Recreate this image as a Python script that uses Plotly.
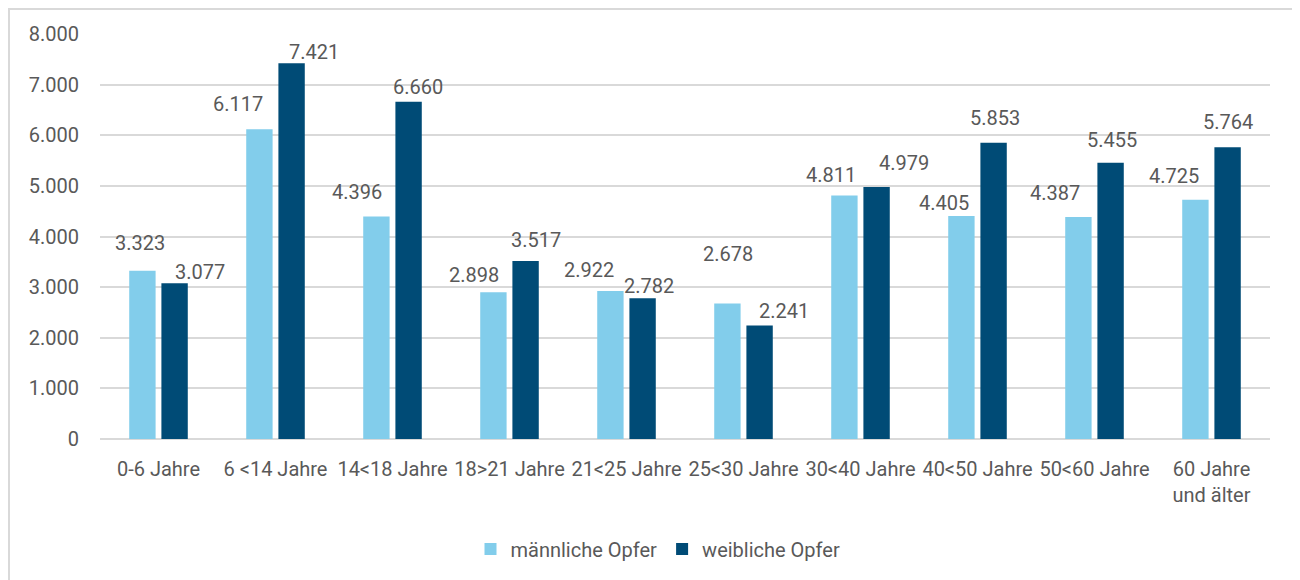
import plotly.graph_objects as go

categories = ["0-6 Jahre", "6 <14 Jahre", "14<18 Jahre", "18>21 Jahre", "21<25 Jahre",
              "25<30 Jahre", "30<40 Jahre", "40<50 Jahre", "50<60 Jahre", "60 Jahre<br>und älter"]
male = [3323, 6117, 4396, 2898, 2922, 2678, 4811, 4405, 4387, 4725]
female = [3077, 7421, 6660, 3517, 2782, 2241, 4979, 5853, 5455, 5764]
y_ticks = [0, 1000, 2000, 3000, 4000, 5000, 6000, 7000, 8000]

# label offsets (style): pixel shifts of each value label relative to its bar top
male_dx = [-3, -22, -20, -20, -22, 0, -14, -18, -24, -22]
male_dy = [28, 25, 24, 17, 21, 49, 20, 13, 24, 24]
female_dx = [25, 22, 9, 10, 6, 24, 27, 1, 1, 0]
female_dy = [11, 11, 15, 21, 12, 15, 24, 25, 23, 25]

C_LIGHT = "#82CDEB"
C_DARK = "#004B76"
TXT = "#595959"
FONT = "Roboto, 'Noto Sans', sans-serif"
FS = 20

def fmt(v):
    return f"{v:,}".replace(",", ".")

fig = go.Figure()
fig.add_trace(go.Bar(name="männliche Opfer", x=categories, y=male, marker_color=C_LIGHT,
                     marker_line_width=0))
fig.add_trace(go.Bar(name="weibliche Opfer", x=categories, y=female, marker_color=C_DARK,
                     marker_line_width=0))

BAR_OFF = 16
annotations = []
for i, c in enumerate(categories):
    annotations.append(dict(x=c, y=male[i], xref="x", yref="y", text=fmt(male[i]),
                            showarrow=False, xanchor="center", yanchor="middle",
                            xshift=-BAR_OFF + male_dx[i], yshift=male_dy[i],
                            font=dict(family=FONT, size=FS, color=TXT)))
    annotations.append(dict(x=c, y=female[i], xref="x", yref="y", text=fmt(female[i]),
                            showarrow=False, xanchor="center", yanchor="middle",
                            xshift=BAR_OFF + female_dx[i], yshift=female_dy[i],
                            font=dict(family=FONT, size=FS, color=TXT)))

# page body has an 8px margin: figure coordinates = screen coordinates - 8
W, H = 1292, 572
L, R, T, B = 92, 30, 26, 141
pw, ph = W - L - R, H - T - B

fig.update_layout(
    width=W, height=H,
    margin=dict(l=L, r=R, t=T, b=B),
    paper_bgcolor="white", plot_bgcolor="white",
    barmode="group", bargap=0.45, bargroupgap=0.18,
    separators=",.",
    font=dict(family=FONT, size=FS, color=TXT),
    showlegend=True,
    legend=dict(orientation="h", x=(650 - L) / pw, xanchor="center",
                y=(H - B - 541) / ph, yanchor="middle",
                font=dict(family=FONT, size=FS, color=TXT),
                itemsizing="constant", itemwidth=30, traceorder="normal"),
    annotations=annotations,
    xaxis=dict(tickangle=0, showgrid=False, showline=False, ticks="",
               tickfont=dict(family=FONT, size=FS, color=TXT), ticklabelstandoff=16),
    yaxis=dict(range=[0, 8000], tickvals=y_ticks, tickformat=",d",
               showgrid=True, gridcolor="#D9D9D9", gridwidth=1.5,
               zeroline=True, zerolinecolor="#D9D9D9", zerolinewidth=1.5,
               showline=False, ticks="", ticklabelstandoff=20,
               tickfont=dict(family=FONT, size=FS, color=TXT)),
    shapes=[dict(type="rect", xref="paper", yref="paper",
                 x0=(1 - L) / pw, x1=(1290 - L) / pw,
                 y0=(H - B - 600) / ph, y1=(H - B - 1) / ph,
                 line=dict(color="#D9D9D9", width=2), fillcolor="rgba(0,0,0,0)",
                 layer="below")],
)

fig.write_html("out.html")
